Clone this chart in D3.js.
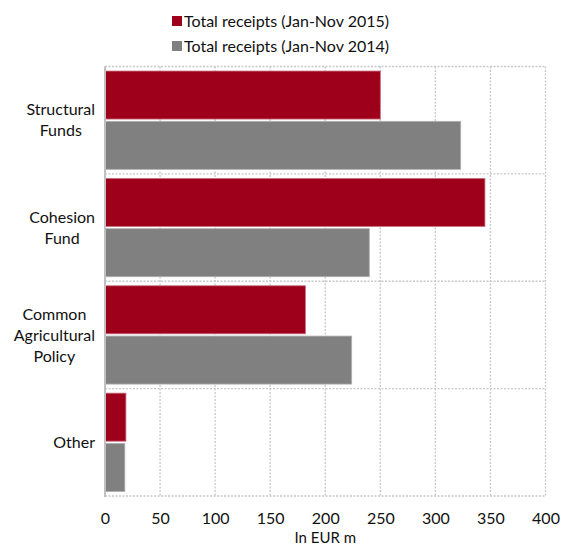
<!DOCTYPE html>
<html>
<head>
<meta charset="utf-8">
<script src="https://cdn.jsdelivr.net/npm/d3@7"></script>
<style>
  html, body { margin: 0; padding: 0; background: #fff; }
  svg { display: block; }
  text { font-family: Lato, "Open Sans", sans-serif; fill: #111; }
</style>
</head>
<body>
<svg id="chart" width="561" height="547"></svg>
<script>
const categories = [["Structural", "Funds"], ["Cohesion", "Fund"], ["Common", "Agricultural", "Policy"], ["Other"]];
const seriesNames = ["Total receipts (Jan-Nov 2015)", "Total receipts (Jan-Nov 2014)"];
const values2015 = [250, 345, 182, 19];
const values2014 = [323, 240, 224, 18];
const xTicks = [0, 50, 100, 150, 200, 250, 300, 350, 400];
const axisTitle = "In EUR m";
const colors = ["#9e001c", "#808080"];

const svg = d3.select("#chart");
const margin = { left: 105, right: 15.5, top: 66.5, bottom: 51 };
const W = 561, H = 547;
const x = d3.scaleLinear().domain([0, 400]).range([margin.left, W - margin.right]);
const catKeys = categories.map((c, i) => i);
const y = d3.scaleBand().domain(catKeys).range([margin.top, H - margin.bottom]).paddingInner(0).paddingOuter(0);
const inner = d3.scaleBand().domain([0, 1]).range([0, y.bandwidth()]).paddingOuter(0.09).paddingInner(0.045);

const fontSize = 16;

// gridlines vertical
const grid = svg.append("g");
grid.selectAll("line.v").data(xTicks.slice(1)).join("line")
  .attr("x1", d => x(d)).attr("x2", d => x(d))
  .attr("y1", margin.top).attr("y2", H - margin.bottom)
  .attr("stroke", "#c8c8c8").attr("stroke-width", 1.3).attr("stroke-dasharray", "2,1.5");
// horizontal band lines
const hLines = catKeys.map(k => y(k)).concat([H - margin.bottom]);
grid.selectAll("line.h").data(hLines).join("line")
  .attr("x1", margin.left).attr("x2", W - margin.right)
  .attr("y1", d => d).attr("y2", d => d)
  .attr("stroke", "#c8c8c8").attr("stroke-width", 1.3).attr("stroke-dasharray", "2,1.5");

// bars
const seriesVals = [values2015, values2014];
seriesVals.forEach((vals, s) => {
  svg.append("g").selectAll("rect").data(vals).join("rect")
    .attr("x", x(0))
    .attr("y", (d, i) => y(i) + inner(s))
    .attr("width", d => x(d) - x(0))
    .attr("height", inner.bandwidth())
    .attr("fill", colors[s])
    .attr("stroke", s === 0 ? "#c8707f" : "#b0b0b0")
    .attr("stroke-width", 0.8);
});

// left axis line
svg.append("line")
  .attr("x1", margin.left).attr("x2", margin.left)
  .attr("y1", margin.top).attr("y2", H - margin.bottom + 1)
  .attr("stroke", "#c0c0c0").attr("stroke-width", 2);

// x tick labels
const xAxis = d3.axisBottom(x).tickValues(xTicks).tickSize(0).tickPadding(0).tickFormat(d3.format("d"));
const gx = svg.append("g").attr("transform", `translate(0,${H - margin.bottom + 17})`).call(xAxis);
gx.select(".domain").remove();
gx.selectAll("text").attr("font-size", fontSize).attr("font-family", "Lato, sans-serif").attr("fill", "#111").attr("dy", "0.71em");

svg.append("text").attr("x", x(200)).attr("y", 543)
  .attr("text-anchor", "middle").attr("font-size", 15).text(axisTitle);

// category labels: block right-aligned at x=95, lines centered
const lineH = 21;
categories.forEach((lines, i) => {
  const g = svg.append("g");
  const cy = y(i) + y.bandwidth() / 2;
  const texts = lines.map((t, j) => g.append("text")
    .attr("font-size", fontSize)
    .attr("text-anchor", "middle")
    .attr("y", cy + (j - (lines.length - 1) / 2) * lineH)
    .attr("dy", "0.35em")
    .text(t));
  const maxW = d3.max(texts, t => t.node().getComputedTextLength());
  texts.forEach(t => t.attr("x", 95 - maxW / 2));
});

// legend
const legend = svg.append("g");
seriesNames.forEach((n, i) => {
  const yy = 21 + i * 25;
  legend.append("rect").attr("x", 172).attr("y", yy - 5).attr("width", 10).attr("height", 10).attr("fill", colors[i]);
  legend.append("text").attr("x", 184).attr("y", yy).attr("dy", "0.35em").attr("font-size", fontSize).text(n);
});
</script>
</body>
</html>
